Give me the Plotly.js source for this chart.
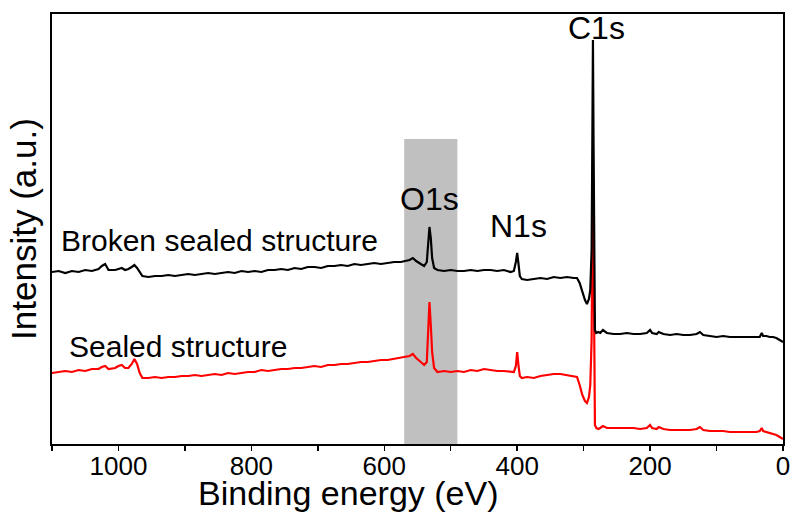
<!DOCTYPE html>
<html>
<head>
<meta charset="utf-8">
<script src="https://cdn.plot.ly/plotly-3.0.1.min.js"></script>
<style>html,body{margin:0;padding:0;background:#fff;}#chart{width:790px;height:512px;}</style>
</head>
<body>
<div id="chart"></div>
<script>
// Binding energy (eV), descending
const energy = [
  1100,1090,1080,1070,1060,1050,1040,1030,1025,1020,
  1015,1005,1000,995,990,985,980,976,972,968,
  964,955,945,935,925,915,905,895,885,875,
  865,855,845,835,825,815,805,795,785,775,
  765,755,745,735,725,715,705,695,685,675,
  665,655,645,635,625,615,605,595,585,575,
  567,562,557,552,545,540,536,534,532,530,
  528,525,520,510,500,490,480,470,460,450,
  440,430,420,410,405,402,400,398,396,393,
  385,375,365,355,345,335,325,315,310,306,
  302,298,295,292,290,288,287,286,285,284,
  283,281,278,275,271,265,255,245,235,225,
  215,205,200,197,190,187,180,170,160,150,
  140,130,125,120,110,100,90,80,70,60,
  50,40,35,32,30,25,20,15,10,5,
  0
];
// Intensity (a.u.) - broken sealed structure (black)
const brokenIntensity = [
  171,172,170,172,171,173,172,174,177,179,
  173,173,174,175,173,174,176,178,175,171,
  167,166,167,167,168,167,168,169,168,169,
  170,169,170,171,170,172,171,172,171,173,
  173,174,173,175,174,176,176,175,177,177,
  178,177,179,178,179,180,179,180,181,181,
  182,183,185,182,179,177,181,198,216,205,
  185,175,173,172,173,172,172,173,172,173,
  173,172,173,171,172,181,190,179,167,164,
  163,164,165,164,166,165,166,165,165,160,
  151,143,139,144,153,193,293,403,293,143,
  113,110,111,110,113,110,109,109,110,109,
  109,110,113,110,109,111,109,108,109,108,
  108,109,111,108,107,106,107,106,106,106,
  106,106,106,110,107,107,106,106,105,103,
  101
];
// Intensity (a.u.) - sealed structure (red)
const sealedIntensity = [
  70,71,72,71,73,72,74,74,76,77,
  74,75,77,78,75,75,79,84,79,70,
  65,65,66,65,66,66,67,67,68,67,
  68,69,68,70,69,70,71,71,73,72,
  73,74,74,75,75,76,77,76,78,78,
  79,79,80,81,81,82,83,83,84,85,
  86,87,89,85,81,78,81,108,141,118,
  91,75,71,72,71,72,71,73,72,74,
  73,72,72,71,71,77,91,77,67,65,
  66,65,67,68,69,69,68,67,66,58,
  48,42,40,46,58,103,193,293,193,43,
  18,15,14,15,17,15,15,15,15,15,
  14,15,18,15,14,16,14,13,13,13,
  13,14,16,13,12,12,12,11,11,11,
  11,11,12,15,12,11,10,9,8,6,
  4
];
const seriesNames = ["Sealed structure", "Broken sealed structure"];
const peakLabels = ["O1s", "N1s", "C1s"];
const peakEnergy = [532, 398, 280];
const peakLabelY = [244, 217, 415];
const seriesLabelX = [1078, 1089];
const seriesLabelY = [97, 203];
const bandRange = [570, 490];
const bandTop = 304;

const FONT = "Liberation Sans, Arial, Helvetica, sans-serif";

const traces = [
  {x: energy, y: sealedIntensity, type: "scatter", mode: "lines", name: seriesNames[0],
   line: {color: "#ff0000", width: 2.2}},
  {x: energy, y: brokenIntensity, type: "scatter", mode: "lines", name: seriesNames[1],
   line: {color: "#000000", width: 2.2}}
];

const annotations = [];
for (let i = 0; i < peakLabels.length; i++) {
  annotations.push({x: peakEnergy[i], y: peakLabelY[i], xref: "x", yref: "y", text: peakLabels[i],
    showarrow: false, xanchor: "center", yanchor: "middle", font: {family: FONT, size: 32, color: "#000"}});
}
for (let i = 0; i < seriesNames.length; i++) {
  annotations.push({x: seriesLabelX[i], y: seriesLabelY[i], xref: "x", yref: "y", text: seriesNames[i],
    showarrow: false, xanchor: "left", yanchor: "middle", font: {family: FONT, size: 30, color: "#000"}});
}
// x-axis title (offset left of plot centre, as in the reference)
annotations.push({x: 0.405, y: -0.115, xref: "paper", yref: "paper", text: "Binding energy (eV)",
  showarrow: false, xanchor: "center", yanchor: "middle", font: {family: FONT, size: 34, color: "#000"}});

const layout = {
  width: 790, height: 512,
  margin: {l: 52, r: 7, t: 14, b: 68},
  paper_bgcolor: "#fff", plot_bgcolor: "#fff",
  showlegend: false,
  font: {family: FONT, color: "#000"},
  xaxis: {
    range: [1100, 0], tick0: 0, dtick: 200,
    ticks: "outside", ticklen: 5, tickwidth: 1.5, tickcolor: "#000",
    minor: {dtick: 100, ticks: "outside", ticklen: 5, tickwidth: 1.5, tickcolor: "#000", showgrid: false},
    showgrid: false, zeroline: false,
    showline: true, linecolor: "#000", linewidth: 2, mirror: true,
    tickfont: {family: FONT, size: 26, color: "#000"},
    ticklabeloverflow: "allow", ticklabelstandoff: -7
  },
  yaxis: {
    range: [-1, 429],
    showticklabels: false, ticks: "", showgrid: false, zeroline: false,
    showline: true, linecolor: "#000", linewidth: 2, mirror: true,
    title: {text: "Intensity (a.u.)", font: {family: FONT, size: 35, color: "#000"}, standoff: 3}
  },
  shapes: [
    {type: "rect", xref: "x", yref: "y", x0: bandRange[0], x1: bandRange[1], y0: -1, y1: bandTop,
     fillcolor: "#c0c0c0", line: {width: 0}, layer: "below"}
  ],
  annotations: annotations
};

Plotly.newPlot("chart", traces, layout, {displayModeBar: false, staticPlot: true});
</script>
</body>
</html>
